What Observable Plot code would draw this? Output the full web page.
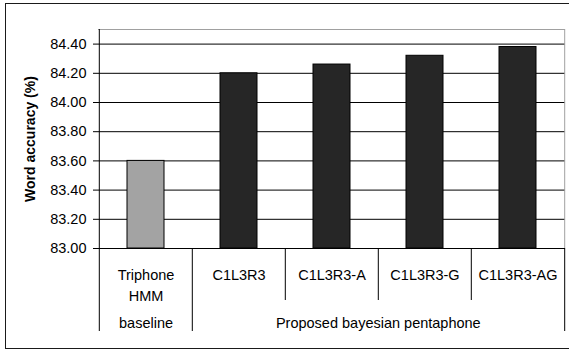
<!DOCTYPE html>
<html>
<head>
<meta charset="utf-8">
<script src="https://cdn.jsdelivr.net/npm/d3@7"></script>
<script src="https://cdn.jsdelivr.net/npm/@observablehq/plot@0.6"></script>
<style>
  body { margin: 0; background: #fff; }
  #wrap { position: relative; width: 569px; height: 352px; overflow: hidden; background: #fff; }
  #wrap svg { display: block; }
  #border { position: absolute; left: 5px; top: 3px; width: 620px; height: 344px; border: 1px solid #1a1a1a; pointer-events: none; }
</style>
</head>
<body>
<div id="wrap"><div id="border"></div></div>
<script>
// Word accuracy per acoustic model
const categories = ["Triphone\nHMM", "C1L3R3", "C1L3R3-A", "C1L3R3-G", "C1L3R3-AG"];
const accuracy   = [83.60, 84.20, 84.26, 84.32, 84.38];
const groupOf    = ["baseline", "Proposed bayesian pentaphone", "Proposed bayesian pentaphone",
                    "Proposed bayesian pentaphone", "Proposed bayesian pentaphone"];
const yTicks     = [83.00, 83.20, 83.40, 83.60, 83.80, 84.00, 84.20, 84.40];
const yDomain    = [83.00, 84.50];
const yTitle     = "Word accuracy (%)";

const W = 569, H = 352;
const mL = 98, mR = 4, mT = 29, mB = 104;
const bw = (W - mL - mR) / categories.length;   // band step (no padding)
const [yMin, yMax] = yDomain;

const rows = categories.map((c, i) => ({category: c, value: accuracy[i], group: groupOf[i]}));

// group spans: first/last index of each run
const groupSpans = [];
groupOf.forEach((g, i) => {
  const last = groupSpans[groupSpans.length - 1];
  if (last && last.group === g) last.end = i;
  else groupSpans.push({group: g, start: i, end: i});
});

// left edge of every category: long line where a group starts, short otherwise
const longEdges  = rows.filter((d, i) => i === 0 || groupOf[i] !== groupOf[i - 1]);
const shortEdges = rows.filter((d, i) => i > 0 && groupOf[i] === groupOf[i - 1]);

const font = "'Liberation Sans', Arial, sans-serif";
const labelSize = 14.5;

const groupLabelMarks = groupSpans.map(s => {
  const center = (s.start + s.end) / 2;
  const idx = Math.ceil(center);
  return Plot.text([s.group], {
    x: () => categories[idx],
    text: d => d,
    dx: (center - idx) * bw,
    frameAnchor: "bottom",
    lineAnchor: "top",
    dy: 69.5
  });
});

const chart = Plot.plot({
  width: W,
  height: H,
  marginLeft: mL,
  marginRight: mR,
  marginTop: mT,
  marginBottom: mB,
  style: {fontFamily: font, fontSize: labelSize + "px", color: "#000", background: "#fff", overflow: "visible"},
  x: {domain: categories, padding: 0, axis: null},
  y: {domain: yDomain, axis: null},
  marks: [
    // horizontal gridlines
    Plot.ruleY(yTicks.filter(v => v > yMin), {stroke: "#000", strokeWidth: 1}),
    // top and right plot-area edges
    Plot.ruleY([yMax], {stroke: "#a0a0a0"}),
    Plot.ruleX([categories[categories.length - 1]], {dx: bw / 2, stroke: "#a0a0a0"}),
    // bars
    Plot.barY(rows, {
      x: "category",
      y1: () => yMin,
      y2: "value",
      fill: d => d.group === "baseline" ? "#a3a3a3" : "#262626",
      stroke: "#000",
      strokeWidth: 1,
      insetLeft: 28,
      insetRight: 28
    }),
    // category table: top line and separators
    Plot.ruleY([yMin], {stroke: "#000"}),
    Plot.ruleX([categories[0]], {dx: -bw / 2, stroke: "#000"}),
    Plot.ruleX(longEdges, {x: "category", y1: () => yMin, y2: () => yMin, insetBottom: -83, dx: -bw / 2, stroke: "#000"}),
    Plot.ruleX(shortEdges, {x: "category", y1: () => yMin, y2: () => yMin, insetBottom: -52, dx: -bw / 2, stroke: "#000"}),
    Plot.ruleX([categories[categories.length - 1]], {y1: () => yMin, y2: () => yMin, insetBottom: -83, dx: bw / 2, stroke: "#000"}),
    // y axis ticks and labels
    Plot.axisY(yTicks, {
      tickSize: 5,
      tickPadding: 7,
      tickFormat: d3.format(".2f"),
      label: null,
      stroke: "#000",
      fontSize: labelSize
    }),
    Plot.text([yTitle], {
      text: d => d,
      frameAnchor: "left",
      textAnchor: "middle",
      dx: -68,
      rotate: -90,
      fontWeight: "bold",
      fontSize: 14
    }),
    // category labels
    Plot.text(categories, {
      x: d => d,
      text: d => d,
      frameAnchor: "bottom",
      lineAnchor: "top",
      dy: 17,
      lineHeight: 1.45
    }),
    ...groupLabelMarks
  ]
});

document.getElementById("wrap").insertBefore(chart, document.getElementById("border"));
</script>
</body>
</html>
